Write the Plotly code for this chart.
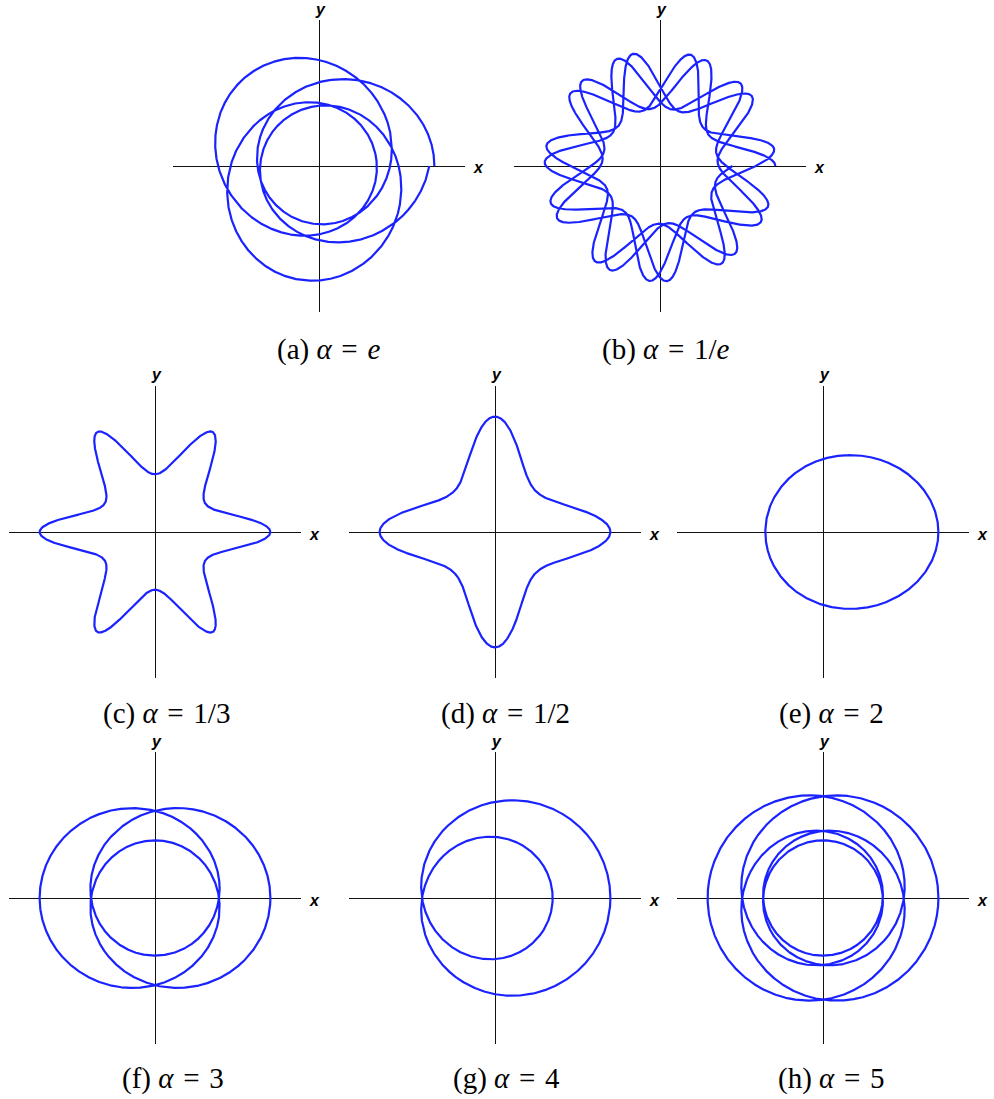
import numpy as np
import plotly.graph_objects as go

# ---------------- data ----------------
panel_letters = ["a", "b", "c", "d", "e", "f", "g", "h"]
alpha_values = [np.e, 1 / np.e, 1 / 3, 1 / 2, 2, 3, 4, 5]
alpha_labels = ["<i>e</i>", "1/<i>e</i>", "1/3", "1/2", "2", "3", "4", "5"]
# number of full turns of the polar angle swept by each curve
phi_turns = [4, 4, 1, 1, 1, 3, 2, 5]
# base (Hooke) ellipse semi-axes (ratio ~ 2:1)
ellipse_a = 2.0
ellipse_b = 1.0

# ---------------- layout (pixels) ----------------
W, H = 994, 1099
PX_PER_UNIT = 57.7
AXIS_HALF_PX = 146
panel_centers_px = [(319, 166), (660, 166),
                    (155, 532), (495, 532), (823, 532),
                    (155, 898), (495, 898), (823, 898)]
caption_pos_px = [(328, 350), (666, 350),
                  (166, 713), (505, 713), (831, 713),
                  (173, 1078), (507, 1078), (831, 1078)]

CURVE_COLOR = "#1a22ff"
SP = "\u2004"  # three-per-em space, imitating math spacing around '='

fig = go.Figure()
layout = dict(
    width=W, height=H, margin=dict(l=0, r=0, t=0, b=0),
    paper_bgcolor="white", plot_bgcolor="white", showlegend=False,
)
annotations = []
half_range = AXIS_HALF_PX / PX_PER_UNIT

for i, (letter, alpha, lab, turns) in enumerate(zip(panel_letters, alpha_values, alpha_labels, phi_turns)):
    cx, cy = panel_centers_px[i]
    n = 6000 * turns
    phi = np.linspace(0, 2 * np.pi * turns, n)
    theta = phi / alpha
    r = 1.0 / np.sqrt(np.cos(theta) ** 2 / ellipse_a ** 2 + np.sin(theta) ** 2 / ellipse_b ** 2)
    xs = r * np.cos(phi)
    ys = r * np.sin(phi)
    xa = "x" if i == 0 else f"x{i+1}"
    ya = "y" if i == 0 else f"y{i+1}"
    fig.add_trace(go.Scatter(x=xs, y=ys, mode="lines", xaxis=xa, yaxis=ya,
                             line=dict(color=CURVE_COLOR, width=2.2), hoverinfo="skip"))
    axcommon = dict(range=[-half_range, half_range], showgrid=False, showticklabels=False,
                    ticks="", zeroline=True, zerolinecolor="#111111", zerolinewidth=1,
                    showline=False, fixedrange=True)
    xkey = "xaxis" if i == 0 else f"xaxis{i+1}"
    ykey = "yaxis" if i == 0 else f"yaxis{i+1}"
    layout[xkey] = dict(axcommon, domain=[(cx - AXIS_HALF_PX) / W, (cx + AXIS_HALF_PX) / W], anchor=ya)
    layout[ykey] = dict(axcommon, domain=[1 - (cy + AXIS_HALF_PX) / H, 1 - (cy - AXIS_HALF_PX) / H], anchor=xa)

    # axis letters
    annotations.append(dict(x=(cx + AXIS_HALF_PX + 13) / W, y=1 - (cy + 2) / H, xref="paper", yref="paper",
                            text="<b><i>x</i></b>", showarrow=False,
                            font=dict(family="Liberation Sans", size=16, color="black"),
                            xanchor="center", yanchor="middle"))
    annotations.append(dict(x=(cx + 1) / W, y=1 - (cy - AXIS_HALF_PX - 11) / H, xref="paper", yref="paper",
                            text="<b><i>y</i></b>", showarrow=False,
                            font=dict(family="Liberation Sans", size=16, color="black"),
                            xanchor="center", yanchor="middle"))
    # caption
    px, py = caption_pos_px[i]
    annotations.append(dict(x=px / W, y=1 - py / H, xref="paper", yref="paper",
                            text=f"({letter}) <i>α</i>{SP}={SP}{lab}", showarrow=False,
                            font=dict(family="Liberation Serif", size=29, color="black"),
                            xanchor="center", yanchor="middle"))

layout["annotations"] = annotations
fig.update_layout(**layout)
fig.write_html("out.html", config={"displayModeBar": False},
               post_script="document.body.style.margin='0px';document.body.style.overflow='hidden';")
